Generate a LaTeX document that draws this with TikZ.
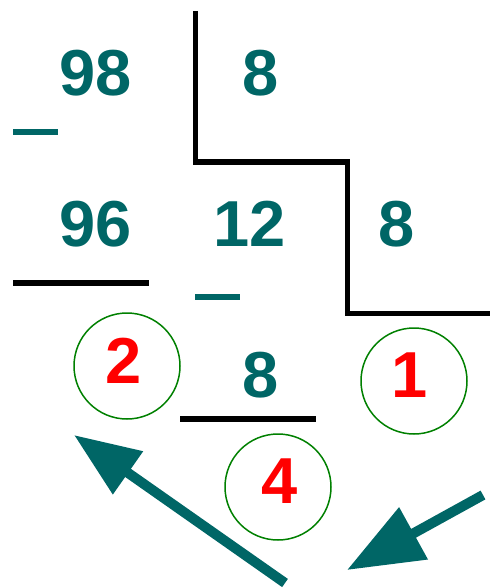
\documentclass[tikz,border=0pt]{standalone}
\usepackage{fontspec}
\setmainfont{Liberation Sans}
\usetikzlibrary{arrows.meta}
\definecolor{divteal}{RGB}{0,102,102}
\definecolor{ringgreen}{RGB}{0,128,0}
\begin{document}
\begin{tikzpicture}[x=1pt,y=-1pt,
	num/.style={inner sep=0pt,text=divteal,font=\fontsize{65}{78}\selectfont\bfseries},
	mark num/.style={num,text=red},
	ring/.style={circle,draw=ringgreen,line width=1.5pt,minimum size=106pt,inner sep=0pt},
	rule/.style={black,line width=6pt},
	minus/.style={divteal,line width=6pt},
	pointer/.style={divteal,line width=10pt,-{Triangle[length=66pt,width=50pt]}},
	big pointer/.style={pointer,-{Triangle[length=76pt,width=57pt]}}]
	\useasboundingbox (0,0) rectangle (490,588);
	% division bracket
	\draw[black,line width=5pt] (195,11)--(195,162)--(347,162)--(347,313)--(490,313);
	% dividend, divisors and quotient
	\node[num] (dividend) at (96,73) {98};
	\node[num] (divisor) at (261,73) {8};
	\node[num] (prod) at (96,224) {96};
	\node[num] (quot) at (250,224) {12};
	\node[num] (divisor2) at (397,224) {8};
	\node[num] (rest) at (261,375) {8};
	% minus signs and rules
	\draw[minus] (13,132)--(58,132);
	\draw[minus] (195,297)--(240,297);
	\draw[rule] (13,283)--(149,283);
	\draw[rule] (180,419)--(316,419);
	% step marks
	\node[ring] (ring2) at (127,366) {};
	\node[mark num] (step2) at (124,361) {2};
	\node[ring] (ring1) at (414,381) {};
	\node[mark num] (step1) at (410,375) {1};
	\node[ring] (ring4) at (278,487) {};
	\node[mark num] (step4) at (280,481) {4};
	% arrows
	\coordinate (tailL) at (285,583);
	\coordinate (tipL) at (74,435);
	\coordinate (tailR) at (483,495);
	\coordinate (tipR) at (347,570);
	\draw[pointer] (tailL)--(tipL);
	\draw[big pointer] (tailR)--(tipR);
\end{tikzpicture}
\end{document}
